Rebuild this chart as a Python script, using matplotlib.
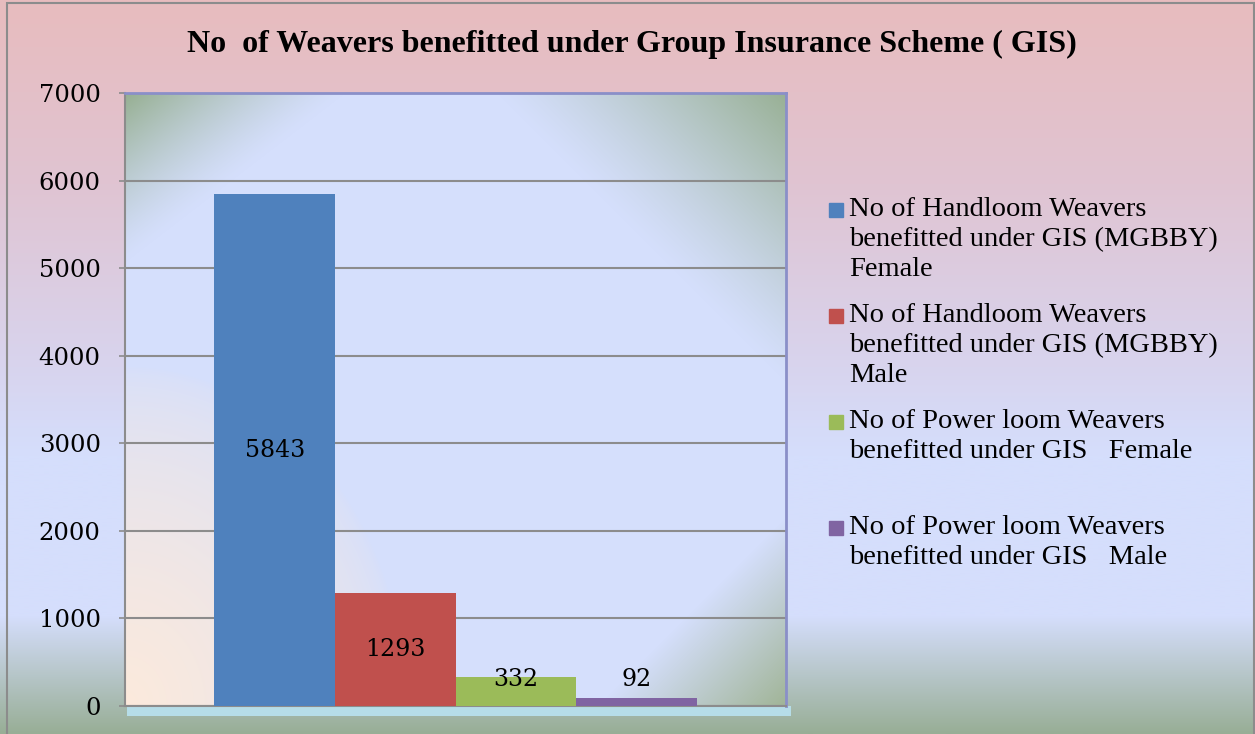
import numpy as np
import matplotlib.pyplot as plt
from matplotlib.patches import Rectangle

# data
series_labels = [
    "No of Handloom Weavers\nbenefitted under GIS (MGBBY)\nFemale",
    "No of Handloom Weavers\nbenefitted under GIS (MGBBY)\nMale",
    "No of Power loom Weavers\nbenefitted under GIS   Female",
    "No of Power loom Weavers\nbenefitted under GIS   Male",
]
values = [5843, 1293, 332, 92]
colors = ["#4f81bd", "#c0504d", "#9bbb59", "#8064a2"]
y_ticks = [0, 1000, 2000, 3000, 4000, 5000, 6000, 7000]
title = "No  of Weavers benefitted under Group Insurance Scheme ( GIS)"

W_PX, H_PX = 1255, 734
fig = plt.figure(figsize=(W_PX / 100, H_PX / 100), dpi=100)


def vertical_gradient(stops, cols, n=400):
    t = np.linspace(0, 1, n)
    cols = np.array(cols, dtype=float) / 255
    out = np.stack([np.interp(t, stops, cols[:, k]) for k in range(3)], axis=1)
    return out[:, None, :]


# figure background: pink at the top, light blue, greenish grey at the bottom
bg = fig.add_axes([0, 0, 1, 1], zorder=-10)
bg.imshow(
    vertical_gradient(
        [0, 0.25, 0.5, 0.62, 0.84, 1.0],
        [(232, 188, 190), (224, 196, 210), (216, 212, 238),
         (213, 222, 252), (213, 222, 252), (152, 174, 150)],
    ),
    aspect="auto", extent=[0, 1, 0, 1], interpolation="bilinear",
)
bg.set_xlim(0, 1)
bg.set_ylim(0, 1)
bg.axis("off")
bg.add_patch(Rectangle((7 / W_PX, -0.01), 1247 / W_PX, 1.01 - 3 / H_PX,
                       fill=False, edgecolor="#8c8c8c", lw=1.5))

left, right, top, bottom = 125, 786, 93, 706
ax = fig.add_axes([left / W_PX, 1 - bottom / H_PX,
                   (right - left) / W_PX, (bottom - top) / H_PX])
ax.set_facecolor("none")

# plot area background with shaded corners
PW, PH = right - left, bottom - top
xx, yy = np.meshgrid(np.arange(PW), np.arange(PH))
img = np.ones((PH, PW, 3)) * np.array([213, 223, 252]) / 255


def blend(img, w, col, p=1.0):
    w = np.clip(w, 0, 1) ** p
    return img * (1 - w[..., None]) + np.array(col) / 255 * w[..., None]


img = blend(img, 1 - (xx + 1.3 * yy) / 220, (150, 175, 145), 1.3)
img = blend(img, 1 - ((PW - xx) + yy) / 290, (152, 176, 148), 1.2)
img = blend(img, 1 - ((PW - xx) + (PH - yy)) / 190, (160, 180, 150))
img = blend(img, 1 - np.sqrt((xx / 280) ** 2 + ((PH - yy) / 340) ** 2),
            (252, 234, 220), 0.6)
ax.imshow(img, extent=[0, 1, 0, 1], transform=ax.transAxes, aspect="auto",
          zorder=0, interpolation="bilinear")

# bars
bar_w = 0.1823
n = len(values)
xs = [(i - (n - 1) / 2) * bar_w for i in range(n)]
ax.bar(xs, values, width=bar_w, color=colors, zorder=3)
for x, v in zip(xs, values):
    ax.text(x, max(v / 2, 300), str(v), ha="center", va="center",
            fontsize=17, family="DejaVu Serif", zorder=4)

ax.set_xlim(-0.5, 0.5)
ax.set_ylim(0, 7000)
ax.set_yticks(y_ticks)
ax.set_xticks([])
ax.yaxis.grid(True, color="#8c8c8c", lw=1.5, zorder=1)
ax.set_axisbelow(True)
ax.tick_params(axis="y", length=4.5, width=1.2, color="#8c8c8c", pad=13,
               labelsize=17.5)
for lab in ax.get_yticklabels():
    lab.set_family("DejaVu Serif")
for s in ["left", "bottom"]:
    ax.spines[s].set_color("#8c8c8c")
    ax.spines[s].set_linewidth(1.5)
for s in ["top", "right"]:
    ax.spines[s].set_color("#8a8fc8")
    ax.spines[s].set_linewidth(2)

# light floor strip under the axis
ax.add_patch(Rectangle((0.003, -0.017), 1.005, 0.017, transform=ax.transAxes,
                       color="#b6dde8", clip_on=False, zorder=2, lw=0))

fig.text(632 / W_PX, 1 - 44 / H_PX, title, ha="center", va="center",
         fontsize=23, fontweight="bold", family="Liberation Serif")

# legend drawn by hand so the marker sits on the first line of each label
first_line_y = [210, 316, 422, 528]
for lab, col, y in zip(series_labels, colors, first_line_y):
    fig.patches.append(Rectangle((829 / W_PX, 1 - (y + 7) / H_PX), 14 / W_PX, 14 / H_PX,
                                 transform=fig.transFigure, color=col, figure=fig))
    fig.text(849 / W_PX, 1 - (y - 13) / H_PX, lab, ha="left", va="top",
             fontsize=20.5, family="Liberation Serif", linespacing=1.27)

fig.savefig("out.png", dpi=100)
